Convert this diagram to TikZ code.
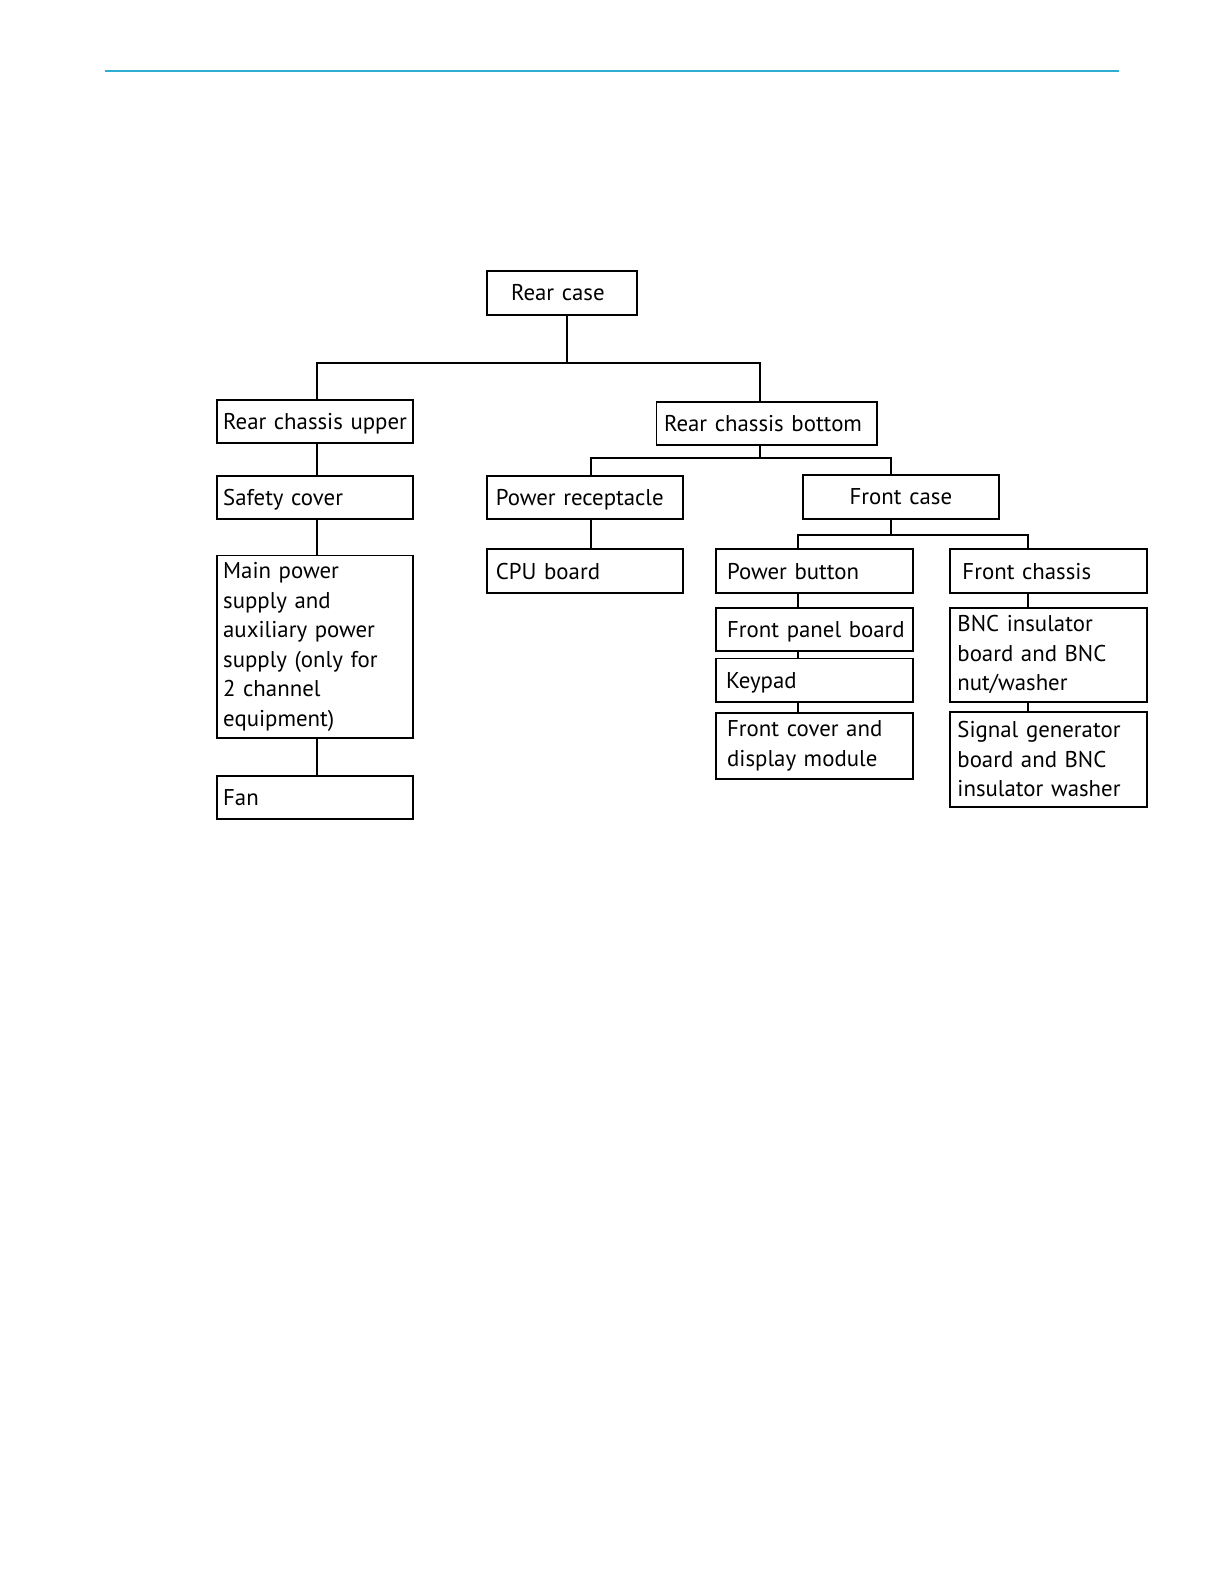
\documentclass[tikz,border=0pt]{standalone}
\usepackage{fontspec}
\setmainfont{PT Sans}
\definecolor{ruleblue}{HTML}{2EAFD2}
\newcommand\nb[1]{\mbox{#1}}
\tikzset{
  box/.style={draw, rectangle, line width=1.9bp, anchor=north west, inner ysep=0pt,
    align=left, font=\fontsize{22.6bp}{29.2bp}\selectfont},
  one/.style={text height=19.5bp, text depth=3.7bp},
  conn/.style={draw, line width=1.9bp},
}
\begin{document}
\begin{tikzpicture}[x=1bp,y=-1bp,scale=1.01,transform shape]
\useasboundingbox (0,0) rectangle (1211.88,1568.32);
\fill[white] (0,0) rectangle (1211.88,1568.32);
\draw[ruleblue, line width=1.6bp] (104,70) -- (1108,70);

\node[box, one, inner xsep=24bp, text width=101bp, minimum width=149bp, minimum height=44bp] (rc) at (481,267) {\nb{Rear case}};
\node[box, one, inner xsep=6bp, text width=182bp, minimum width=194bp, minimum height=43bp] (rcu) at (214,395) {\nb{Rear chassis upper}};
\node[box, one, inner xsep=7.5bp, text width=203bp, minimum width=218bp, minimum height=43bp] (rcb) at (649,397) {\nb{Rear chassis bottom}};
\node[box, one, inner xsep=6bp, text width=182bp, minimum width=194bp, minimum height=43bp] (sc) at (214,470) {\nb{Safety cover}};
\node[box, inner xsep=6bp, text width=182bp, minimum width=194bp, minimum height=181bp] (mp) at (214,549) {\nb{Main power}\\\nb{supply and}\\\nb{auxiliary power}\\\nb{supply (only for}\\\nb{2 channel}\\\nb{equipment)}};
\node[box, one, inner xsep=6bp, text width=182bp, minimum width=194bp, minimum height=43bp] (fan) at (214,767) {\nb{Fan}};
\node[box, one, inner xsep=9bp, text width=176bp, minimum width=194bp, minimum height=43bp] (pr) at (481,470) {\nb{Power receptacle}};
\node[box, one, inner xsep=9bp, text width=176bp, minimum width=194bp, minimum height=43bp] (cpu) at (481,543) {\nb{CPU board}};
\node[box, one, align=center, inner xsep=4bp, text width=186bp, minimum width=194bp, minimum height=44bp] (fc) at (794,469) {\nb{Front case}};
\node[box, one, inner xsep=11bp, text width=173bp, minimum width=195bp, minimum height=43bp] (pb) at (708,543) {\nb{Power button}};
\node[box, one, inner xsep=12bp, text width=171bp, minimum width=195bp, minimum height=43bp] (fch) at (940,543) {\nb{Front chassis}};
\node[box, one, inner xsep=11bp, text width=173bp, minimum width=195bp, minimum height=43bp] (fpb) at (708,601) {\nb{Front panel board}};
\node[box, one, inner xsep=10bp, text width=175bp, minimum width=195bp, minimum height=43bp] (kp) at (708,651) {\nb{Keypad}};
\node[box, inner xsep=11bp, text width=173bp, minimum width=195bp, minimum height=65bp] (fcd) at (708,705) {\nb{Front cover and}\\\nb{display module}};
\node[box, inner xsep=7bp, text width=181bp, minimum width=195bp, minimum height=93bp] (bnc) at (940,601) {\nb{BNC insulator}\\\nb{board and BNC}\\\nb{nut/washer}};
\node[box, inner xsep=7bp, text width=181bp, minimum width=195bp, minimum height=94bp] (sg) at (940,704) {\nb{Signal generator}\\\nb{board and BNC}\\\nb{insulator washer}};

\coordinate (j1) at (561,359.5);
\coordinate (j1l) at (313.5,359.5);
\coordinate (j1r) at (752,359.5);
\coordinate (j2) at (752,453);
\coordinate (j2l) at (585,453);
\coordinate (j2r) at (882,453);
\coordinate (j3) at (882,530);
\coordinate (j3l) at (790,530);
\coordinate (j3r) at (1018,530);

\draw[conn] (rc.south -| j1) -- (j1);
\draw[conn] (rcu.north -| j1l) -- (j1l) -- (j1r) -- (rcb.north -| j1r);
\draw[conn] (rcu.south -| j1l) -- (sc.north -| j1l);
\draw[conn] (sc.south -| j1l) -- (mp.north -| j1l);
\draw[conn] (mp.south -| j1l) -- (fan.north -| j1l);

\draw[conn] (rcb.south -| j2) -- (j2);
\draw[conn] (pr.north -| j2l) -- (j2l) -- (j2r) -- (fc.north -| j2r);
\draw[conn] (pr.south -| j2l) -- (cpu.north -| j2l);

\draw[conn] (fc.south -| j3) -- (j3);
\draw[conn] (pb.north -| j3l) -- (j3l) -- (j3r) -- (fch.north -| j3r);
\draw[conn] (pb.south -| j3l) -- (fpb.north -| j3l);
\draw[conn] (fpb.south -| j3l) -- (kp.north -| j3l);
\draw[conn] (kp.south -| j3l) -- (fcd.north -| j3l);
\draw[conn] (fch.south -| j3r) -- (bnc.north -| j3r);
\draw[conn] (bnc.south -| j3r) -- (sg.north -| j3r);
\end{tikzpicture}
\end{document}
